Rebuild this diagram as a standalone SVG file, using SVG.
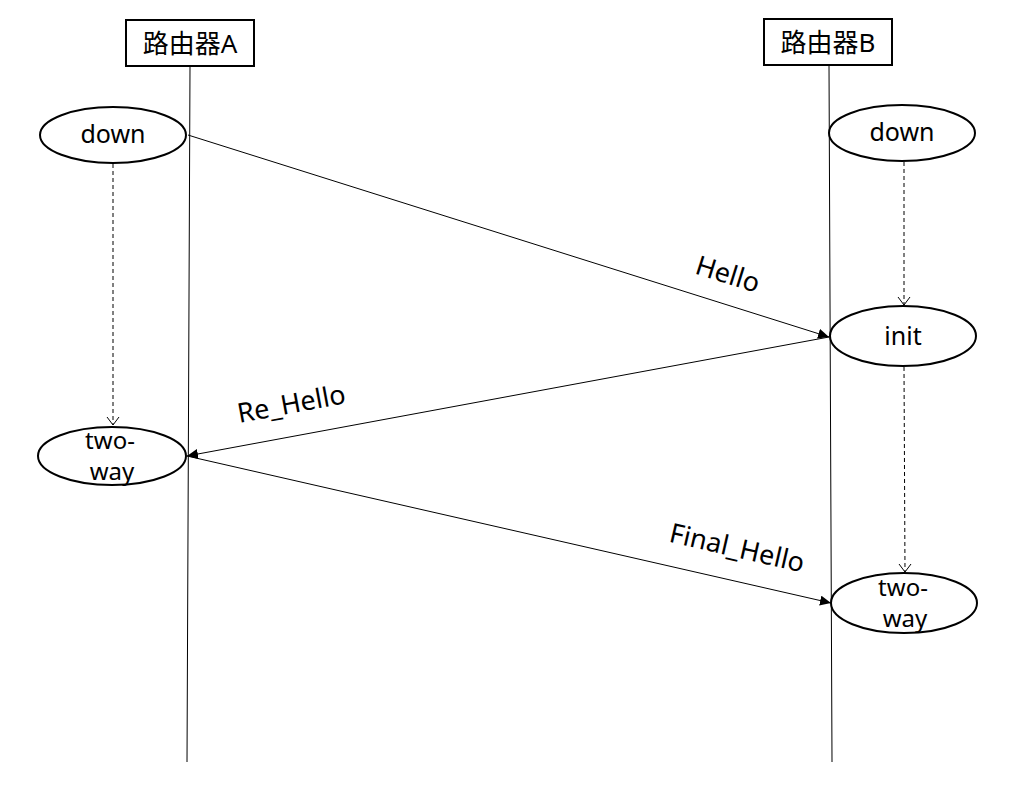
<svg xmlns="http://www.w3.org/2000/svg" width="1022" height="810" viewBox="0 0 1022 810">
<style>
.box{fill:#fff;stroke:#000;stroke-width:2}
.st{fill:#fff;stroke:#000;stroke-width:2}
.life{stroke:#000;stroke-width:1;fill:none}
.msg{stroke:#000;stroke-width:1;fill:none;marker-end:url(#fill)}
.dl{stroke:#000;stroke-width:1;fill:none;stroke-dasharray:4,3}
.ah{stroke:#000;stroke-width:1;fill:none}
text{font-family:"Noto Sans","Open Sans","Noto Sans CJK SC",sans-serif;fill:#000;text-anchor:middle}
.t{font-size:25px}
.tw{font-size:24px}
.hd{font-size:26px}
.lbl{font-size:27px}
</style>
<defs>
<marker id="fill" markerWidth="12" markerHeight="10" refX="11" refY="5" orient="auto" markerUnits="userSpaceOnUse"><path d="M0,0 L11,5 L0,10 z" fill="#000"/></marker>
</defs>
<g id="lifelines">
<line class="life" x1="190" y1="66" x2="187" y2="762"/>
<line class="life" x1="829" y1="65" x2="832" y2="762"/>
</g>
<g id="routerA"><rect class="box" x="126" y="20" width="128" height="46"/><text class="hd" x="190" y="53">路由器A</text></g>
<g id="routerB"><rect class="box" x="764" y="19" width="128" height="46"/><text class="hd" x="828" y="52">路由器B</text></g>
<g id="connectors">
<path class="dl" d="M113,164 V425"/>
<path class="ah" d="M107,417 L113,425 L119,417"/>
<path class="dl" d="M904,162 V305"/>
<path class="ah" d="M898,297 L904,305 L910,297"/>
<path class="dl" d="M904,367 L905,572"/>
<path class="ah" d="M899,564 L905,572 L911,564"/>
<line class="msg" x1="188" y1="135" x2="829" y2="337"/>
<line class="msg" x1="829" y1="337" x2="187" y2="456"/>
<line class="msg" x1="187" y1="456" x2="831" y2="603"/>
</g>
<g id="downA"><ellipse class="st" cx="113" cy="135" rx="73" ry="28"/><text class="t" x="113" y="143">down</text></g>
<g id="downB"><ellipse class="st" cx="902" cy="133" rx="73" ry="28"/><text class="t" x="902" y="141">down</text></g>
<g id="initB"><ellipse class="st" cx="903" cy="336" rx="73" ry="30"/><text class="t" x="903" y="345">init</text></g>
<g id="twowayA"><ellipse class="st" cx="112" cy="456" rx="74" ry="29"/><text class="tw" x="110" y="449">two-</text><text class="tw" x="112" y="480">way</text></g>
<g id="twowayB"><ellipse class="st" cx="904" cy="603" rx="73" ry="30"/><text class="tw" x="903" y="596">two-</text><text class="tw" x="905" y="627">way</text></g>
<g id="labels">
<text class="lbl" transform="translate(725,283) rotate(17.5)">Hello</text>
<text class="lbl" transform="translate(293,413) rotate(-10.5)">Re_Hello</text>
<text class="lbl" transform="translate(735,557) rotate(13)">Final_Hello</text>
</g>
</svg>
